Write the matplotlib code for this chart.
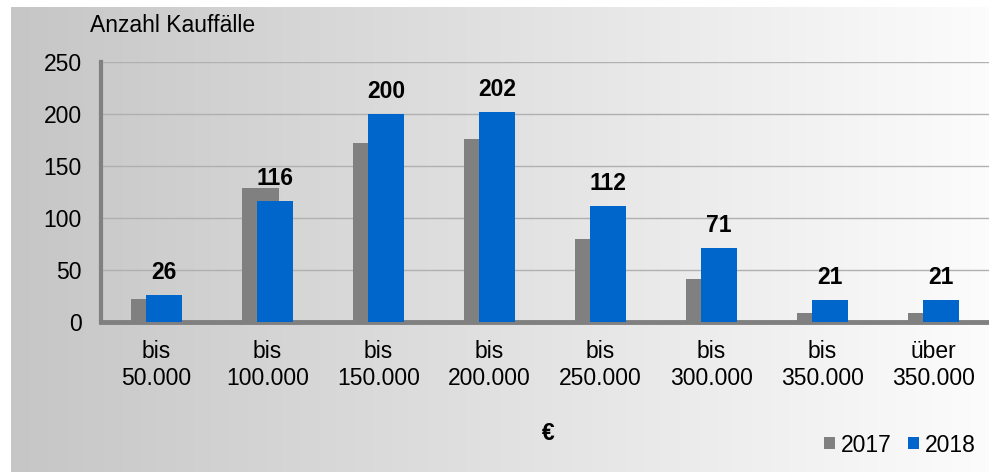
import numpy as np
import matplotlib.pyplot as plt

plt.rcParams['font.family'] = ['Liberation Sans', 'DejaVu Sans']

categories = ['bis\n50.000', 'bis\n100.000', 'bis\n150.000', 'bis\n200.000',
              'bis\n250.000', 'bis\n300.000', 'bis\n350.000', 'über\n350.000']
v2017 = [22, 129, 172, 176, 80, 41, 9, 9]
v2018 = [26, 116, 200, 202, 112, 71, 21, 21]
yticks = [0, 50, 100, 150, 200, 250]

W, H = 989, 474
FS = 16.5
fig = plt.figure(figsize=(W / 100, H / 100), dpi=100)
fig.patch.set_facecolor('white')

# gradient panel behind the chart
bg = fig.add_axes([11 / W, 1 - 472 / H, (989 - 11) / W, (472 - 7) / H])
grad = np.linspace(0, 1, 256).reshape(1, -1)
c0 = np.array([198, 198, 198]) / 255
c1 = np.array([252, 252, 252]) / 255
img = c0 + (c1 - c0) * grad[..., None]
bg.imshow(img, aspect='auto', extent=[0, 1, 0, 1])
bg.axis('off')

ax = fig.add_axes([101 / W, 1 - 322 / H, (989 - 101) / W, (322 - 62) / H])
ax.patch.set_alpha(0)

x = np.arange(len(categories))
w = 0.325
ax.bar(x - 0.063, v2017, w, color='#808080', label='2017', zorder=2)
bars = ax.bar(x + 0.068, v2018, w, color='#0066CC', label='2018', zorder=3)

for b, v in zip(bars, v2018):
    ax.text(b.get_x() + b.get_width() / 2, v + 10.5, str(v), ha='center', va='bottom',
            fontsize=FS, fontweight='bold', color='black', zorder=4)

ax.set_xlim(-0.5, 7.5)
ax.set_ylim(0, 250)
ax.set_yticks(yticks)
ax.set_xticks(x)
ax.set_xticklabels(categories, fontsize=FS, linespacing=1.23)
ax.tick_params(axis='y', length=0, pad=14, labelsize=FS)
ax.tick_params(axis='x', length=0, pad=13)
ax.grid(axis='y', color='#b0b0b0', linewidth=1, zorder=1)
ax.set_axisbelow(True)

for s in ['top', 'right']:
    ax.spines[s].set_visible(False)
ax.spines['left'].set_color('#808080')
ax.spines['left'].set_linewidth(3)
ax.spines['bottom'].set_color('#808080')
ax.spines['bottom'].set_linewidth(3.5)

fig.text(90 / W, 1 - 25 / H, 'Anzahl Kauffälle', fontsize=FS, ha='left', va='center')
fig.text(548 / W, 1 - 433 / H, '€', fontsize=FS, fontweight='bold', ha='center', va='center')

fig.legend(loc='center', bbox_to_anchor=(900 / W, 1 - 445 / H), ncol=2, frameon=False,
           fontsize=FS, handlelength=0.48, handleheight=0.45, handletextpad=0.26,
           columnspacing=0.7)

fig.savefig('out.png', dpi=100)
